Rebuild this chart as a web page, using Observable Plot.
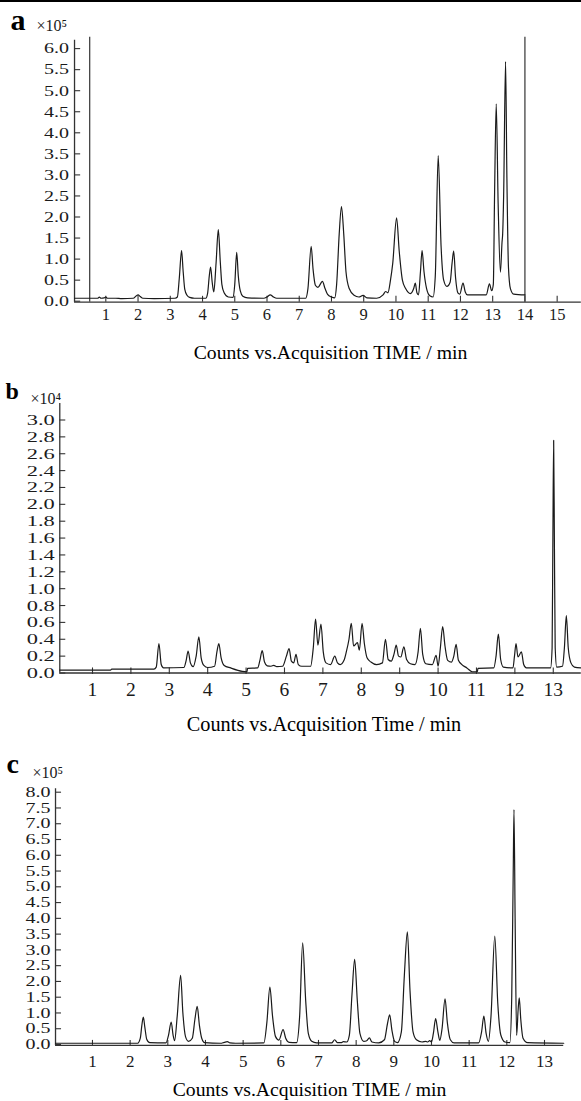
<!DOCTYPE html>
<html><head><meta charset="utf-8">
<script src="https://cdn.jsdelivr.net/npm/d3@7"></script>
<script src="https://cdn.jsdelivr.net/npm/@observablehq/plot@0.6"></script>
<style>
body{margin:0;background:#fff;}
#page{position:relative;width:581px;height:1101px;overflow:hidden;background:#fff;}
#topline{position:absolute;left:0;top:0;width:581px;height:2px;background:#000;}
.panel{position:absolute;left:0;}
</style></head><body>
<div id="page"><div id="topline"></div></div>
<script>
// ---------- Panel a (counts ×10^5 vs acquisition time, min) ----------
const aTime = [0.03,0.75,0.8,0.85,0.95,1.0,1.05,1.3,1.5,1.85,1.95,2.0,2.07,2.15,2.5,3.15,3.22,3.28,3.35,3.4,3.45,3.52,3.6,3.75,
  4.1,4.16,4.21,4.25,4.3,4.35,4.42,4.49,4.55,4.6,4.67,4.8,4.95,5.0,5.06,5.11,5.17,5.25,5.4,5.9,6.0,6.1,6.2,6.3,
  7.2,7.27,7.37,7.43,7.5,7.58,7.72,7.8,7.88,8.0,8.1,8.16,8.24,8.31,8.38,8.45,8.55,8.7,8.85,8.98,9.1,9.4,9.6,9.68,9.75,
  9.83,9.9,10.02,10.1,10.2,10.3,10.45,10.55,10.6,10.65,10.7,10.76,10.81,10.87,10.95,11.05,11.15,11.22,11.31,11.4,11.48,
  11.58,11.68,11.74,11.79,11.85,11.92,11.98,12.08,12.15,12.22,12.8,12.9,12.97,13.02,13.06,13.11,13.17,13.24,13.29,13.31,
  13.34,13.4,13.44,13.49,13.55,13.65,14.0];
const aCounts = [0.07,0.07,0.1,0.07,0.08,0.1,0.07,0.07,0.06,0.07,0.13,0.15,0.11,0.07,0.06,0.07,0.1,0.55,1.2,0.7,0.28,0.14,0.09,0.07,
  0.07,0.2,0.6,0.81,0.45,0.22,0.9,1.7,0.95,0.4,0.2,0.1,0.09,0.4,1.16,0.6,0.25,0.12,0.08,0.07,0.1,0.15,0.1,0.07,
  0.07,0.3,1.3,0.75,0.38,0.33,0.47,0.3,0.16,0.1,0.08,0.4,1.6,2.25,1.6,0.7,0.3,0.14,0.1,0.14,0.08,0.07,0.15,0.23,0.2,
  0.5,0.9,1.98,1.2,0.5,0.3,0.18,0.3,0.43,0.2,0.15,0.7,1.2,0.7,0.3,0.13,0.1,0.6,3.46,1.3,0.5,
  0.35,0.45,0.9,1.19,0.55,0.2,0.17,0.43,0.22,0.15,0.15,0.41,0.25,0.4,2.6,4.69,2.3,0.69,1.4,1.6,
  2.5,5.69,3.0,0.8,0.3,0.17,0.15];
const aSegments = [0.5, 14.0];
const aXTicks = [1,2,3,4,5,6,7,8,9,10,11,12,13,14,15];
const aYTicks = [0,0.5,1.0,1.5,2.0,2.5,3.0,3.5,4.0,4.5,5.0,5.5,6.0];

// ---------- Panel b (counts ×10^4) ----------
const bTime = [0.15,1.47,1.5,2.6,2.66,2.73,2.79,2.85,3.38,3.44,3.49,3.55,3.62,3.7,3.77,3.83,3.9,4.0,4.18,4.24,4.29,4.35,4.43,4.6,
  4.9,5.02,5.04,5.3,5.36,5.42,5.48,5.55,5.65,5.72,5.8,5.95,6.05,6.12,6.18,6.24,6.3,6.36,6.45,6.68,6.75,6.81,6.87,6.95,7.01,
  7.08,7.2,7.31,7.38,7.45,7.55,7.61,7.68,7.74,7.8,7.9,7.95,8.02,8.08,8.15,8.25,8.4,8.55,8.63,8.7,8.78,8.85,8.91,8.97,9.03,
  9.11,9.18,9.28,9.4,9.48,9.54,9.6,9.68,9.85,9.95,10.0,10.06,10.12,10.18,10.25,10.35,10.41,10.47,10.53,10.62,10.75,10.89,
  11.02,11.04,11.45,11.51,11.57,11.63,11.7,11.95,11.99,12.03,12.08,12.17,12.23,12.3,12.93,12.97,12.99,13.01,13.03,13.05,13.09,
  13.24,13.29,13.34,13.39,13.46,13.55,13.72];
const bCounts = [0.035,0.035,0.045,0.045,0.07,0.35,0.1,0.06,0.065,0.15,0.26,0.12,0.075,0.2,0.43,0.18,0.09,0.065,0.08,0.25,0.35,0.18,0.09,0.06,
  0.02,0.015,0.055,0.06,0.15,0.265,0.13,0.085,0.08,0.09,0.075,0.08,0.2,0.29,0.14,0.12,0.22,0.1,0.08,0.08,0.3,0.64,0.33,0.58,0.25,
  0.12,0.1,0.2,0.12,0.1,0.15,0.25,0.4,0.59,0.32,0.36,0.27,0.59,0.35,0.18,0.13,0.1,0.12,0.4,0.16,0.14,0.22,0.33,0.2,0.19,
  0.31,0.16,0.11,0.1,0.25,0.53,0.22,0.11,0.1,0.21,0.08,0.3,0.55,0.32,0.15,0.13,0.2,0.34,0.15,0.1,0.06,0.015,
  0.015,0.055,0.06,0.2,0.46,0.16,0.07,0.06,0.2,0.35,0.19,0.25,0.1,0.06,0.06,0.3,1.6,2.76,1.5,0.3,0.07,
  0.08,0.3,0.68,0.3,0.12,0.07,0.06];
const bXTicks = [1,2,3,4,5,6,7,8,9,10,11,12,13];
const bYTicks = [0,0.2,0.4,0.6,0.8,1.0,1.2,1.4,1.6,1.8,2.0,2.2,2.4,2.6,2.8,3.0];

// ---------- Panel c (counts ×10^5) ----------
const cTime = [0.02,2.2,2.27,2.31,2.35,2.39,2.44,2.52,2.95,3.02,3.09,3.14,3.18,3.25,3.34,3.4,3.47,3.55,3.65,3.72,3.78,3.84,3.9,3.98,
  4.4,4.5,4.58,4.65,4.8,5.55,5.63,5.71,5.78,5.86,5.95,6.06,6.13,6.22,6.42,6.5,6.58,6.66,6.73,6.82,6.95,7.35,7.43,7.5,7.6,7.66,
  7.75,7.82,7.89,7.96,8.03,8.1,8.2,8.28,8.35,8.42,8.6,8.75,8.83,8.89,8.95,9.02,9.1,9.2,9.28,9.36,9.43,9.51,9.6,9.75,9.85,9.9,
  9.95,10.0,10.05,10.11,10.17,10.22,10.28,10.36,10.42,10.5,10.6,11.25,11.33,11.39,11.45,11.51,11.58,11.68,11.76,11.84,11.95,
  12.08,12.13,12.17,12.19,12.22,12.26,12.3,12.33,12.37,12.43,12.55,13.51];
const cCounts = [0.04,0.04,0.2,0.6,0.87,0.55,0.17,0.06,0.05,0.3,0.71,0.3,0.12,0.9,2.19,1.0,0.25,0.1,0.2,0.8,1.21,0.6,0.2,0.06,
  0.04,0.07,0.09,0.05,0.04,0.05,0.7,1.82,0.9,0.25,0.14,0.47,0.2,0.07,0.06,0.9,3.22,1.4,0.35,0.1,0.05,0.05,0.15,0.06,0.06,0.09,
  0.08,0.3,1.6,2.7,1.4,0.35,0.1,0.12,0.21,0.08,0.05,0.15,0.65,0.94,0.45,0.1,0.06,0.4,2.2,3.57,1.7,0.4,0.15,0.08,0.1,0.08,
  0.12,0.08,0.35,0.82,0.4,0.13,0.5,1.45,0.7,0.15,0.05,0.05,0.4,0.9,0.35,0.1,0.9,3.44,1.3,0.3,0.08,
  0.06,1.5,5.5,7.45,4.0,0.29,1.1,1.48,0.8,0.2,0.06,0.04];
const cXTicks = [1,2,3,4,5,6,7,8,9,10,11,12,13];
const cYTicks = [0,0.5,1.0,1.5,2.0,2.5,3.0,3.5,4.0,4.5,5.0,5.5,6.0,6.5,7.0,7.5,8.0];

// ---------- Texts ----------
const panelLetters = ["a", "b", "c"];
const multipliers = ["×10⁵", "×10⁴", "×10⁵"];
const xTitles = ["Counts vs.Acquisition TIME / min", "Counts vs.Acquisition Time / min", "Counts vs.Acquisition TIME / min"];

const FONT = "'Liberation Serif', 'Times New Roman', serif";
const INK = "#1a1a1a", AXIS = "#333";

function makePanel(o) {
  const data = o.time.map((t, i) => ({t, v: o.counts[i]}));
  const ax = o.axis;
  const marks = [
    Plot.ruleY([ax.y0], {x1: () => ax.x0, x2: () => ax.xEnd, stroke: AXIS, strokeWidth: 1.3}),
    Plot.ruleX([ax.x0], {y1: () => ax.y0, y2: () => ax.yTop, stroke: AXIS, strokeWidth: 1.3}),
    Plot.ruleX(o.xTicks, {x: d => d, y1: () => ax.y0 - o.xTickDown, y2: () => ax.y0 + o.xTickUp, stroke: AXIS, strokeWidth: 1.1}),
    Plot.ruleY(o.yTicks, {y: d => d, x1: () => ax.x0, x2: () => ax.x0 + o.yTickLen, stroke: AXIS, strokeWidth: 1.1}),
    Plot.text(o.xTicks, {x: d => d, y: () => ax.y0, text: d => String(d), lineAnchor: "bottom", dy: o.xLabelDy,
      fontSize: o.xLabelSize, fill: INK}),
    Plot.text(o.yTicks, {x: () => ax.x0, y: d => d, text: d => d.toFixed(1), textAnchor: "end", dx: o.yLabelDx,
      fontSize: o.yLabelSize, fill: INK, ariaDescription: "ylabels"})
  ];
  if (o.segments) marks.push(Plot.ruleX(o.segments, {x: d => d, y1: () => ax.y0, y2: () => o.segTop, stroke: "#444", strokeWidth: 1.3}));
  marks.push(
    Plot.line(data, {x: "t", y: "v", curve: "monotone-x", stroke: INK, strokeWidth: 1.2}),
    Plot.text([o.letter], {text: d => d, frameAnchor: "top-left", dx: o.letterPos[0], dy: o.letterPos[1], lineAnchor: "bottom",
      textAnchor: "start", fontSize: o.letterSize, fontWeight: "bold", fill: "#000"}),
    Plot.text([o.mult], {text: d => d, frameAnchor: "top-left", dx: o.multPos[0], dy: o.multPos[1], lineAnchor: "bottom",
      textAnchor: "start", fontSize: 16, fill: INK}),
    Plot.text([o.title], {text: d => d, frameAnchor: "top-left", dx: o.titlePos[0], dy: o.titlePos[1], lineAnchor: "bottom",
      textAnchor: "middle", fontSize: o.titleSize, fill: "#000"})
  );
  const svg = Plot.plot({
    width: 581, height: o.height,
    marginTop: 0, marginRight: 0, marginBottom: 0, marginLeft: 0,
    x: {domain: o.xDomain, range: o.xRange, axis: null},
    y: {domain: o.yDomain, range: o.yRange, axis: null},
    style: {fontFamily: FONT, background: "transparent", overflow: "visible"},
    marks
  });
  svg.querySelectorAll('g[aria-description="ylabels"] text').forEach(t => {
    t.setAttribute("textLength", o.yLabelWidth);
    t.setAttribute("lengthAdjust", "spacingAndGlyphs");
  });
  const wrap = document.createElement("div");
  wrap.className = "panel";
  wrap.style.top = o.top + "px";
  wrap.appendChild(svg);
  document.getElementById("page").appendChild(wrap);
}

makePanel({
  top: 0, height: 362, time: aTime, counts: aCounts,
  xDomain: [0, 15.6], xRange: [73.06, 576.0], yDomain: [0, 6], yRange: [300.7, 48.1],
  axis: {x0: 0.03, xEnd: 15.75, y0: -0.024, yTop: 6.2},
  xTicks: aXTicks, yTicks: aYTicks, xTickUp: 0.14, xTickDown: 0, yTickLen: 0.19,
  xLabelDy: 17.3, xLabelSize: 16.5, yLabelDx: -5.5, yLabelSize: 15, yLabelWidth: 25,
  segments: aSegments, segTop: 6.27,
  letter: panelLetters[0], letterPos: [10, 29], letterSize: 30,
  mult: multipliers[0], multPos: [36, 30],
  title: xTitles[0], titlePos: [330, 358], titleSize: 19.7
});
makePanel({
  top: 362, height: 378, time: bTime, counts: bCounts,
  xDomain: [0, 13.73], xRange: [53.6, 580.8], yDomain: [0, 3], yRange: [310.5, 57.5],
  axis: {x0: 0.148, xEnd: 13.73, y0: 0, yTop: 3.196},
  xTicks: bXTicks, yTicks: bYTicks, xTickUp: 0.06, xTickDown: 0.018, yTickLen: 0.156,
  xLabelDy: 22.5, xLabelSize: 19.5, yLabelDx: -5, yLabelSize: 15.5, yLabelWidth: 28,
  letter: panelLetters[1], letterPos: [5, 36], letterSize: 24,
  mult: multipliers[1], multPos: [30, 41],
  title: xTitles[1], titlePos: [323.5, 368], titleSize: 20.3
});
makePanel({
  top: 740, height: 361, time: cTime, counts: cCounts,
  xDomain: [0, 13.6], xRange: [54.3, 566.6], yDomain: [0, 8], yRange: [304, 51.7],
  axis: {x0: 0.019, xEnd: 13.51, y0: -0.03, yTop: 8.11},
  xTicks: cXTicks, yTicks: cYTicks, xTickUp: 0.16, xTickDown: 0, yTickLen: 0.16,
  xLabelDy: 21.7, xLabelSize: 17, yLabelDx: -5, yLabelSize: 14.5, yLabelWidth: 25,
  letter: panelLetters[2], letterPos: [6, 32], letterSize: 28,
  mult: multipliers[2], multPos: [32, 37],
  title: xTitles[2], titlePos: [309, 355], titleSize: 19.7
});
</script>
</body></html>
